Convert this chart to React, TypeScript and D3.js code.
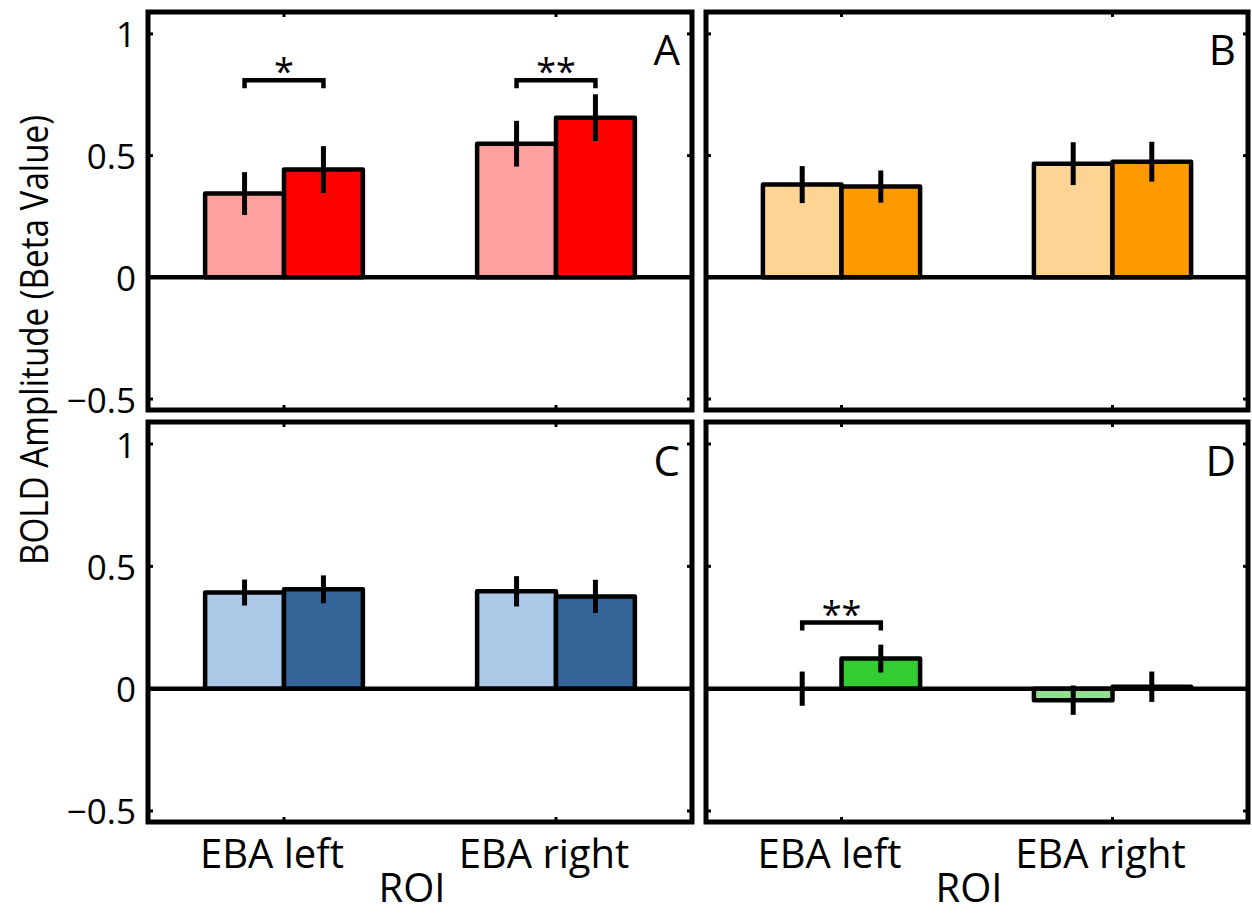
import React from 'react';
import * as d3 from 'd3';

// ROI groups on the x axis
const rois = ['EBA left', 'EBA right'];
const yTicks = [-0.5, 0, 0.5, 1];

// panel A (red)
const aLight = [0.344, 0.549];
const aDark = [0.443, 0.656];
const aLightErr = [0.088, 0.094];
const aDarkErr = [0.096, 0.096];
const aStars = ['*', '**'];
const aSigAt = [0.81, 0.81];

// panel B (orange)
const bLight = [0.381, 0.467];
const bDark = [0.373, 0.475];
const bLightErr = [0.076, 0.088];
const bDarkErr = [0.066, 0.082];

// panel C (blue)
const cLight = [0.393, 0.398];
const cDark = [0.406, 0.377];
const cLightErr = [0.053, 0.062];
const cDarkErr = [0.057, 0.068];

// panel D (green)
const dLight = [0, -0.047];
const dDark = [0.123, 0.008];
const dLightErr = [0.07, 0.06];
const dDarkErr = [0.057, 0.062];
const dStars = ['**', ''];
const dSigAt = [0.27, 0];

const FONT = "'Open Sans', sans-serif";
const yDomain: [number, number] = [-0.545, 1.09];

type PanelProps = {
  label: string;
  light: number[];
  dark: number[];
  lightErr: number[];
  darkErr: number[];
  colors: [string, string];
  stars?: string[];
  sigAt?: number[];
  x0: number;
  x1: number;
  y0: number;
  y1: number;
  showY: boolean;
  showX: boolean;
};

function Panel(p: PanelProps) {
  const x = d3.scaleLinear().domain([0.5, 2.5]).range([p.x0, p.x1]);
  const y = d3.scaleLinear().domain(yDomain).range([p.y1, p.y0]);
  const sub = d3.scaleBand<number>().domain([0, 1]).range([-0.29, 0.29]);
  const bw = sub.bandwidth();

  const bars: { cx: number; v: number; e: number; fill: string; key: string }[] = [];
  rois.forEach((r, g) => {
    bars.push({ cx: g + 1 + sub(0)! + bw / 2, v: p.light[g], e: p.lightErr[g], fill: p.colors[0], key: r + 'l' });
    bars.push({ cx: g + 1 + sub(1)! + bw / 2, v: p.dark[g], e: p.darkErr[g], fill: p.colors[1], key: r + 'd' });
  });
  const wPx = x(bw) - x(0);
  const tk = 5;

  return (
    <g>
      {bars.filter(b => b.v !== 0).map(b => (
        <rect key={b.key} x={x(b.cx) - wPx / 2} y={Math.min(y(b.v), y(0))}
          width={wPx} height={Math.abs(y(b.v) - y(0))}
          fill={b.fill} stroke="#000" strokeWidth={4.5} strokeLinejoin="round" />
      ))}
      <line x1={p.x0} x2={p.x1} y1={y(0)} y2={y(0)} stroke="#000" strokeWidth={4.5} />
      {bars.map(b => (
        <line key={'e' + b.key} x1={x(b.cx)} x2={x(b.cx)} y1={y(b.v - b.e)} y2={y(b.v + b.e)}
          stroke="#000" strokeWidth={5} />
      ))}
      {p.stars && p.sigAt && p.stars.map((s, g) => s ? (
        <g key={'s' + g}>
          <path d={`M${x(g + 1 - bw / 2)},${y(p.sigAt![g]) + 8}V${y(p.sigAt![g])}H${x(g + 1 + bw / 2)}V${y(p.sigAt![g]) + 8}`}
            fill="none" stroke="#000" strokeWidth={4.5} />
          <text x={x(g + 1)} y={y(p.sigAt![g]) + 4} textAnchor="middle" fontFamily={FONT} fontSize={36}>{s}</text>
        </g>
      ) : null)}
      {yTicks.map(t => (
        <g key={'yt' + t}>
          <line x1={p.x0} x2={p.x0 + tk} y1={y(t)} y2={y(t)} stroke="#000" strokeWidth={3} />
          <line x1={p.x1 - tk} x2={p.x1} y1={y(t)} y2={y(t)} stroke="#000" strokeWidth={3} />
          {p.showY && (
            <text x={p.x0 - 12} y={y(t)} textAnchor="end" dominantBaseline="central"
              fontFamily={FONT} fontSize={35}>{t < 0 ? '\u2212' + Math.abs(t) : String(t)}</text>
          )}
        </g>
      ))}
      {rois.map((r, g) => (
        <g key={'xt' + r}>
          <line x1={x(g + 1)} x2={x(g + 1)} y1={p.y0} y2={p.y0 + tk} stroke="#000" strokeWidth={3} />
          <line x1={x(g + 1)} x2={x(g + 1)} y1={p.y1 - tk} y2={p.y1} stroke="#000" strokeWidth={3} />
          {p.showX && (
            <text x={x(g + 1) - 12} y={p.y1 + 46} textAnchor="middle" fontFamily={FONT} fontSize={40}>{r}</text>
          )}
        </g>
      ))}
      {p.showX && (
        <text x={(p.x0 + p.x1) / 2 - 8} y={p.y1 + 80} textAnchor="middle" fontFamily={FONT} fontSize={40}>ROI</text>
      )}
      <rect x={p.x0} y={p.y0} width={p.x1 - p.x0} height={p.y1 - p.y0} fill="none" stroke="#000" strokeWidth={5} />
      <text x={p.x1 - 12} y={y(0.92) + 12} textAnchor="end" fontFamily={FONT} fontSize={42}>{p.label}</text>
    </g>
  );
}

export default function App() {
  return (
    <svg width={1252} height={913} style={{ position: 'absolute', left: 0, top: 0, background: '#fff' }}>
      <Panel label="A" light={aLight} dark={aDark} lightErr={aLightErr} darkErr={aDarkErr}
        colors={['#ffa0a0', '#ff0000']} stars={aStars} sigAt={aSigAt}
        x0={148} x1={692} y0={12} y1={410} showY showX={false} />
      <Panel label="B" light={bLight} dark={bDark} lightErr={bLightErr} darkErr={bDarkErr}
        colors={['#ffd393', '#ff9900']}
        x0={706} x1={1248} y0={12} y1={410} showY={false} showX={false} />
      <Panel label="C" light={cLight} dark={cDark} lightErr={cLightErr} darkErr={cDarkErr}
        colors={['#adc8e6', '#346699']}
        x0={148} x1={692} y0={422} y1={822} showY showX />
      <Panel label="D" light={dLight} dark={dDark} lightErr={dLightErr} darkErr={dDarkErr}
        colors={['#90e090', '#33cc33']} stars={dStars} sigAt={dSigAt}
        x0={706} x1={1248} y0={422} y1={822} showY={false} showX />
      <text transform="translate(48,340) rotate(-90)" textAnchor="middle" fontFamily={FONT} fontSize={38}
        textLength={450} lengthAdjust="spacingAndGlyphs">
        BOLD Amplitude (Beta Value)
      </text>
    </svg>
  );
}
